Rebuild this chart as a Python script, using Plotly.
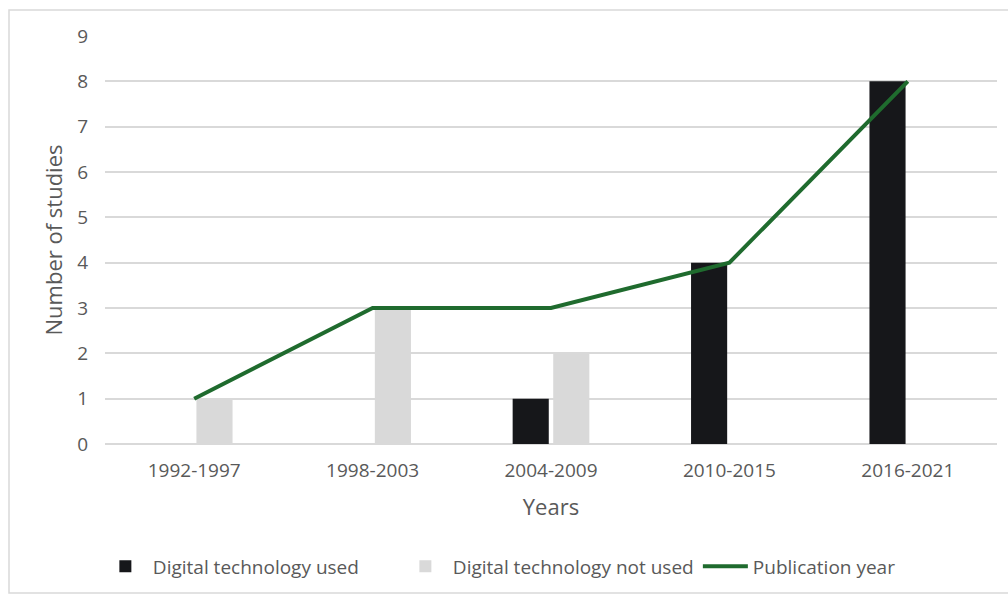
import plotly.graph_objects as go

categories = ["1992-1997", "1998-2003", "2004-2009", "2010-2015", "2016-2021"]
used = [0, 0, 1, 4, 8]
not_used = [1, 3, 2, 0, 0]
publication = [1, 3, 3, 4, 8]
y_ticks = list(range(0, 10))

font_family = "'Open Sans', Lato, sans-serif"
grey_text = "#595959"

fig = go.Figure()
fig.add_trace(go.Bar(x=categories, y=used, name="Digital technology used",
                     marker=dict(color="#16171a", line=dict(width=0))))
fig.add_trace(go.Bar(x=categories, y=not_used, name="Digital technology not used",
                     marker=dict(color="#d9d9d9", line=dict(width=0))))
fig.add_trace(go.Scatter(x=categories, y=publication, name="Publication year",
                         mode="lines", line=dict(color="#1f6b2e", width=4)))

fig.update_layout(
    width=1008, height=595,
    margin=dict(l=105, r=11, t=36, b=151, autoexpand=False),
    paper_bgcolor="white", plot_bgcolor="white",
    barmode="group", bargap=0.545, bargroupgap=0.11,
    font=dict(family=font_family, color=grey_text, size=19),
    showlegend=True,
    legend=dict(orientation="h", x=-0.008, xanchor="left", y=-0.3, yanchor="middle",
                font=dict(size=19, color=grey_text), entrywidth=240,
                entrywidthmode="pixels",
                traceorder="normal", itemwidth=45),
    xaxis=dict(title=dict(text="Years", font=dict(size=22), standoff=17),
               showgrid=False, showline=False, ticks="", zeroline=False,
               ticklabelstandoff=13, tickfont=dict(size=19)),
    yaxis=dict(title=dict(text="Number of studies", font=dict(size=22), standoff=8),
               range=[0, 9], tickvals=y_ticks, showgrid=True, gridcolor="#d9d9d9",
               gridwidth=1.5, zeroline=True, zerolinecolor="#d9d9d9", zerolinewidth=1.5,
               ticks="", showline=False, ticklabelstandoff=16, tickfont=dict(size=19)),
    shapes=[dict(type="rect", xref="paper", yref="paper",
                 x0=(9 - 105) / 892, x1=1.05, y0=(444 - 593) / 408, y1=(444 - 10) / 408,
                 line=dict(color="#d9d9d9", width=1.5), fillcolor="rgba(0,0,0,0)",
                 layer="below")],
)

fig.write_html("out.html")
